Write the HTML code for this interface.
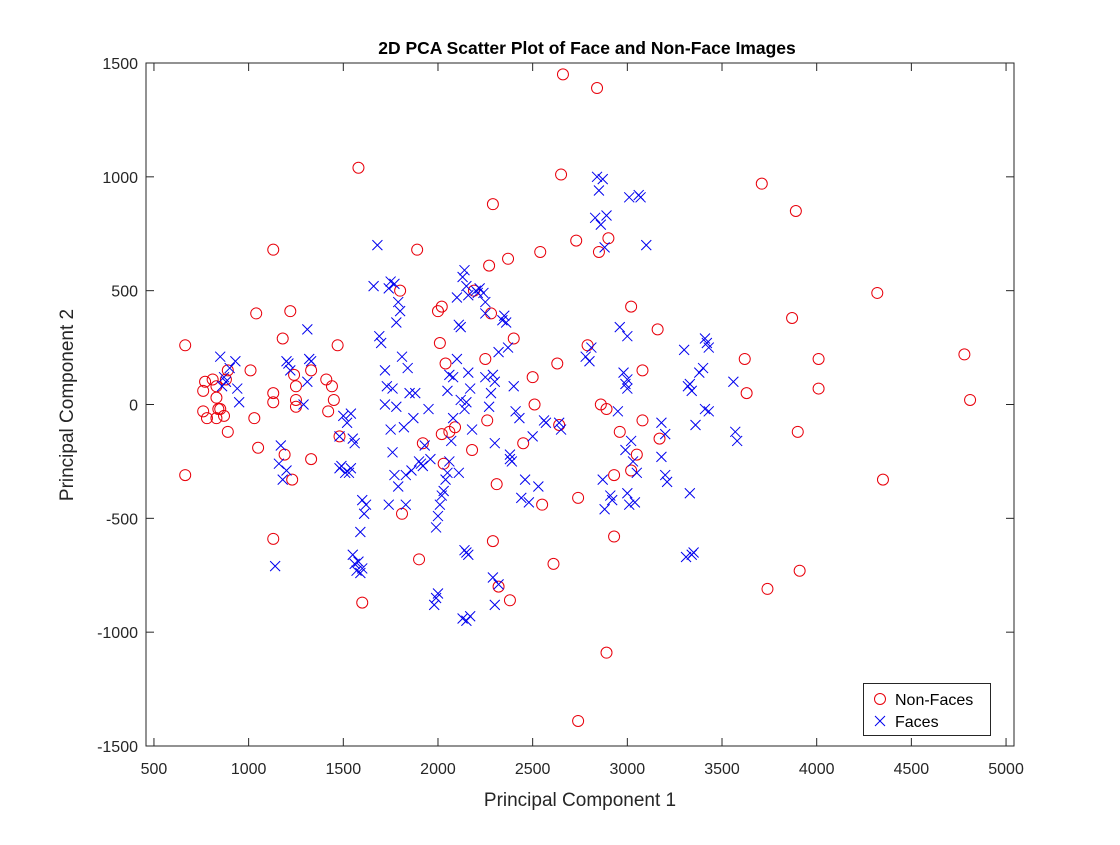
<!DOCTYPE html>
<html><head><meta charset="utf-8"><style>
body{margin:0;background:#fff;}
svg text{font-family:"Liberation Sans",sans-serif;fill:#262626;}
</style></head><body>
<svg id="chart" width="1120" height="840" xmlns="http://www.w3.org/2000/svg">
<rect width="1120" height="840" fill="#fff"/>
<g id="plot"></g>
</svg>
<script>
const xTicks=[500,1000,1500,2000,2500,3000,3500,4000,4500,5000];
const yTicks=[-1500,-1000,-500,0,500,1000,1500];
const nonFaceX=[665,665,760,770,760,780,810,830,830,840,850,830,870,880,890,890,1010,1030,1040,1050,1130,1130,1130,1130,1180,1190,1220,1230,1240,1250,1250,1250,1330,1330,1410,1420,1440,1450,1470,1480,1580,1600,1800,1810,1890,1900,1920,2000,2010,2020,2020,2030,2040,2060,2090,2180,2190,2250,2260,2270,2280,2290,2290,2310,2320,2370,2380,2400,2450,2500,2510,2540,2550,2610,2630,2640,2650,2660,2730,2740,2740,2790,2840,2850,2860,2890,2890,2900,2930,2930,2960,3020,3020,3050,3080,3080,3160,3170,3620,3630,3710,3740,3870,3890,3900,3910,4010,4010,4320,4350,4780,4810];
const nonFaceY=[260,-310,60,100,-30,-60,110,80,30,-20,-20,-60,-50,110,150,-120,150,-60,400,-190,680,50,10,-590,290,-220,410,-330,130,80,20,-10,150,-240,110,-30,80,20,260,-140,1040,-870,500,-480,680,-680,-170,410,270,430,-130,-260,180,-120,-100,-200,500,200,-70,610,400,880,-600,-350,-800,640,-860,290,-170,120,0,670,-440,-700,180,-90,1010,1450,720,-410,-1390,260,1390,670,0,-1090,-20,730,-310,-580,-120,430,-290,-220,150,-70,330,-150,200,50,970,-810,380,850,-120,-730,200,70,490,-330,220,20];
const faceX=[850,870,880,930,940,950,860,900,1160,1170,1180,1200,1210,1220,1310,1320,1330,1310,1290,1200,1140,1480,1490,1500,1510,1520,1530,1540,1550,1560,1480,1550,1560,1570,1580,1590,1600,1600,1610,1620,1590,1540,1660,1680,1690,1700,1720,1730,1740,1750,1760,1770,1780,1790,1800,1810,1820,1750,1760,1740,1770,1790,1830,1840,1850,1860,1830,1720,1780,1880,1900,1910,1920,1930,1950,1960,1980,1990,2000,1990,2000,2010,2020,2030,2040,2050,2060,2070,2080,2050,2060,2080,2100,2110,2120,2130,2140,2150,2100,2160,2120,2150,2140,2160,2170,2180,2140,2150,2160,2130,2150,2170,2110,2200,2210,2220,2240,2250,2250,2270,2280,2290,2300,2300,2320,2340,2350,2360,2370,2380,2380,2390,2290,2300,2320,2400,2410,2430,2440,2460,2480,2500,2530,2560,2570,2640,2650,2780,2800,2830,2840,2850,2860,2870,2880,2890,2960,2980,2990,3000,3000,2870,2880,2910,2920,2950,2990,3000,3010,3020,3030,3040,3050,3010,3060,3070,3100,3180,3200,3200,3210,3180,3300,3320,3330,3340,3350,3310,3330,3340,3360,3380,3400,3410,3420,3430,3410,3430,3560,3570,3580,3000,2810,2250,1870];
const faceY=[210,120,100,190,70,10,80,160,-260,-180,-330,190,180,150,330,200,190,100,0,-290,-710,-140,-270,-50,-300,-80,-300,-40,-150,-170,-280,-660,-700,-730,-690,-740,-720,-420,-480,-440,-560,-280,520,700,300,270,150,80,510,540,70,530,360,450,410,210,-100,-110,-210,-440,-310,-360,-440,160,50,-290,-310,0,-10,50,-250,-260,-270,-180,-20,-240,-880,-850,-830,-540,-490,-440,-400,-380,-330,-300,-250,-160,-60,60,130,120,200,350,340,560,590,520,470,480,20,10,-20,140,70,-110,-640,-650,-660,-940,-950,-930,-300,500,490,510,490,450,120,-10,50,130,100,-170,230,370,390,360,250,-220,-240,-250,-760,-880,-790,80,-30,-60,-410,-330,-430,-140,-360,-70,-80,-80,-110,210,190,820,1000,940,790,990,690,830,340,140,90,110,70,-330,-460,-400,-420,-30,-200,-390,-440,-160,-250,-430,-300,910,920,910,700,-80,-130,-310,-340,-230,240,80,90,-660,-650,-670,-390,60,-90,140,160,290,270,250,-20,-30,100,-120,-160,300,250,400,-60];

const L=146,R=1014,T=63,B=746,xMin=458,xMax=5042,yMin=-1500,yMax=1500;
const sx=v=>L+(v-xMin)/(xMax-xMin)*(R-L);
const sy=v=>B-(v-yMin)/(yMax-yMin)*(B-T);
const NS='http://www.w3.org/2000/svg';
const g=document.getElementById('plot');
function mk(t,a,p){const e=document.createElementNS(NS,t);for(const k in a)e.setAttribute(k,a[k]);(p||g).appendChild(e);return e;}

const box=mk('rect',{x:L,y:T,width:R-L,height:B-T,fill:'#fff',stroke:'#262626','stroke-width':1});



xTicks.forEach(v=>{
  const x=sx(v);
  const t1=mk('line',{x1:x,x2:x,y1:B,y2:B-8,stroke:'#262626'});
  
  
  const t2=mk('line',{x1:x,x2:x,y1:T,y2:T+8,stroke:'#262626'});
  
  
  const tx=mk('text',{x:x,y:B+28,'text-anchor':'middle','font-size':16});
  tx.textContent=v;
  
  
});
yTicks.forEach(v=>{
  const y=sy(v);
  const t1=mk('line',{x1:L,x2:L+8,y1:y,y2:y,stroke:'#262626'});
  
  
  const t2=mk('line',{x1:R,x2:R-8,y1:y,y2:y,stroke:'#262626'});
  
  
  const tx=mk('text',{x:L-8,y:y+6,'text-anchor':'end','font-size':16});
  tx.textContent=v;
  
  
});

nonFaceX.forEach((v,i)=>{
  const c=mk('circle',{cx:sx(v),cy:sy(nonFaceY[i]),r:5.5,fill:'none',stroke:'#e8000b','stroke-width':1});
  
  
});
faceX.forEach((v,i)=>{
  const x=sx(v),y=sy(faceY[i]),s=5;
  const p=mk('path',{d:`M${x-s},${y-s}L${x+s},${y+s}M${x-s},${y+s}L${x+s},${y-s}`,stroke:'#0000ee','stroke-width':1,fill:'none'});
  
  
});
</script>
<svg style="position:absolute;left:0;top:0" width="1120" height="840" xmlns="http://www.w3.org/2000/svg">
<text x="587" y="54" text-anchor="middle" font-size="17.5" font-weight="bold" font-family="Liberation Sans, sans-serif" style="fill:#000">2D PCA Scatter Plot of Face and Non-Face Images</text>
<text x="580" y="806" text-anchor="middle" font-size="19" font-family="Liberation Sans, sans-serif" fill="#262626">Principal Component 1</text>
<text transform="translate(73,405) rotate(-90)" text-anchor="middle" font-size="19" font-family="Liberation Sans, sans-serif" fill="#262626">Principal Component 2</text>
<g>
<rect x="863.5" y="683.5" width="127" height="52" fill="#fff" stroke="#262626"/>
<circle cx="880" cy="699" r="5.5" fill="none" stroke="#e8000b"/>
<text x="895" y="705" font-size="16" font-family="Liberation Sans, sans-serif" style="fill:#000">Non-Faces</text>
<path d="M875,716L885,726M875,726L885,716" stroke="#0000ee"/>
<text x="895" y="727" font-size="16" font-family="Liberation Sans, sans-serif" style="fill:#000">Faces</text>
</g>
</svg>
</body></html>
